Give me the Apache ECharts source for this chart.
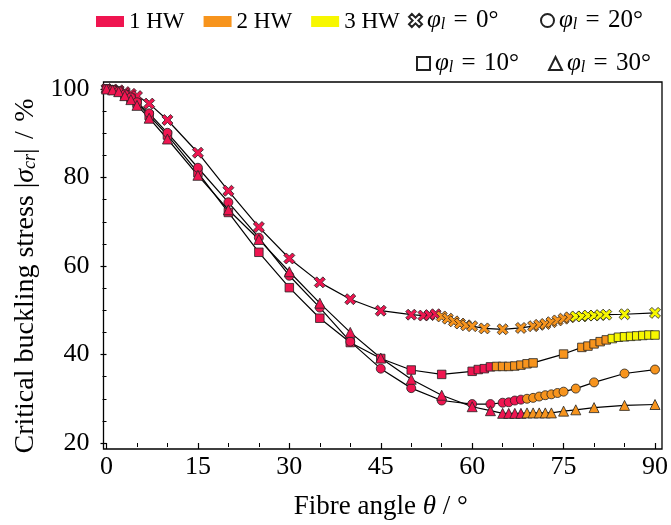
<!DOCTYPE html>
<html><head><meta charset="utf-8">
<script src="https://cdn.jsdelivr.net/npm/echarts@6/dist/echarts.min.js"></script>
<style>html,body{margin:0;padding:0;background:#fff}#c{width:671px;height:525px}</style>
</head><body><div id="c"></div>
<script>
// ---- data ----
const modeNames = ['1 HW', '2 HW', '3 HW'];
const modeColors = ['#ef1550', '#f7941d', '#f7f700'];
const xTicks = [0, 15, 30, 45, 60, 75, 90];
const yTicks = [20, 40, 60, 80, 100];

// phi_l = 0 deg (cross)
const x0 = [0,1,2,3,4,5,7,10,15,20,25,30,35,40,45,50,52,53,54,55,56,57,58,59,60,62,65,68,70,71,72,73,74,75,76,77,78,79,80,81,82,85,90];
const y0 = [100,99.9,99.7,99.3,98.9,98.4,96.7,93.0,85.6,77.0,68.8,61.7,56.3,52.5,49.9,49.0,48.8,48.9,49.1,48.6,48.1,47.5,47.0,46.6,46.4,45.9,45.7,46.0,46.4,46.7,46.9,47.3,47.7,48.1,48.4,48.6,48.6,48.8,48.8,48.9,49.0,49.1,49.4];
const m0 = [1,1,1,1,1,1,1,1,1,1,1,1,1,1,1,1,1,1,1,2,2,2,2,2,2,2,2,2,2,2,2,2,2,2,2,3,3,3,3,3,3,3,3];

// phi_l = 10 deg (square)
const x1 = [0,1,2,3,4,5,7,10,15,20,25,30,35,40,45,50,55,60,61,62,63,64,65,66,67,68,69,70,75,78,79,80,81,82,83,84,85,86,87,88,89,90];
const y1 = [100,99.8,99.5,98.7,97.9,96.8,94.0,89.6,81.1,72.1,63.1,55.1,48.2,42.7,39.1,36.5,35.5,36.2,36.6,36.8,37.2,37.3,37.3,37.3,37.4,37.6,37.9,38.1,40.1,41.6,41.9,42.4,42.9,43.3,43.6,43.9,44.0,44.1,44.2,44.3,44.4,44.4];
const m1 = [1,1,1,1,1,1,1,1,1,1,1,1,1,1,1,1,1,1,1,1,1,2,2,2,2,2,2,2,2,2,2,2,2,2,3,3,3,3,3,3,3,3];

// phi_l = 20 deg (circle)
const x2 = [0,1,2,3,4,5,7,10,15,20,25,30,35,40,45,50,55,60,63,65,66,67,68,69,70,71,72,73,74,75,77,80,85,90];
const y2 = [100,99.8,99.5,98.8,98.1,97.0,94.5,90.1,82.2,74.4,66.4,57.8,50.6,42.9,36.8,32.4,29.6,28.8,28.8,29.1,29.2,29.6,29.8,30.0,30.2,30.5,30.8,31.0,31.3,31.6,32.3,33.7,35.7,36.6];
const m2 = [1,1,1,1,1,1,1,1,1,1,1,1,1,1,1,1,1,1,1,1,1,1,1,2,2,2,2,2,2,2,2,2,2,2];

// phi_l = 30 deg (triangle)
const x3 = [0,1,2,3,4,5,7,10,15,20,25,30,35,40,45,50,55,60,63,65,66,67,68,69,70,71,72,73,75,77,80,85,90];
const y3 = [100,99.8,99.4,98.5,97.6,96.3,93.4,88.7,80.5,72.7,66.0,58.7,51.6,45.0,39.2,34.4,30.8,28.2,27.3,26.7,26.7,26.7,26.7,26.8,26.8,26.8,26.8,26.8,27.2,27.5,28.0,28.5,28.7];
const m3 = [1,1,1,1,1,1,1,1,1,1,1,1,1,1,1,1,1,1,1,1,1,1,1,2,2,2,2,2,2,2,2,2,2];

const seriesNames = ['phi0', 'phi10', 'phi20', 'phi30'];
const seriesLabels = {
  phi0: '{i|φ}{s|l}{n|\u2004=\u20040°}',
  phi10: '{i|φ}{s|l}{n|\u2004=\u200410°}',
  phi20: '{i|φ}{s|l}{n|\u2004=\u200420°}',
  phi30: '{i|φ}{s|l}{n|\u2004=\u200430°}'
};

// ---- styling ----
const FONT = 'Liberation Serif';
const crossPath = 'path://M0,2.2L2.2,0L5,2.8L7.8,0L10,2.2L7.2,5L10,7.8L7.8,10L5,7.2L2.2,10L0,7.8L2.8,5Z';
const symbols = [crossPath, 'rect', 'circle', 'triangle'];
const symbolSizes = [11, 8.5, 9, 10];

function build(xs, ys, ms) {
  return xs.map((x, i) => ({ value: [x, ys[i]], itemStyle: { color: modeColors[ms[i] - 1] } }));
}
const sets = [[x0, y0, m0], [x1, y1, m1], [x2, y2, m2], [x3, y3, m3]];

const richDef = {
  i: { fontFamily: FONT, fontStyle: 'italic', fontSize: 25, color: '#000' },
  s: { fontFamily: FONT, fontStyle: 'italic', fontSize: 16, color: '#000', verticalAlign: 'bottom' },
  n: { fontFamily: FONT, fontSize: 25, color: '#000' }
};
function axisRich(fs) {
  return {
    i: { fontFamily: FONT, fontStyle: 'italic', fontSize: fs, color: '#000' },
    s: { fontFamily: FONT, fontStyle: 'italic', fontSize: Math.round(fs * 0.66), color: '#000', verticalAlign: 'bottom' }
  };
}

const series = sets.map((s, k) => ({
  type: 'line',
  name: seriesNames[k],
  xAxisIndex: 1, yAxisIndex: 1,
  data: build(s[0], s[1], s[2]),
  symbol: symbols[k],
  symbolSize: symbolSizes[k],
  showSymbol: true, showAllSymbol: true,
  clip: false,
  lineStyle: { color: '#000', width: 1.2 },
  itemStyle: { color: '#ffffff', borderColor: '#222', borderWidth: 0.8 },
  emphasis: { disabled: true },
  animation: false
}));
modeNames.forEach((n, k) => series.push({
  type: 'line', name: n, xAxisIndex: 1, yAxisIndex: 1, data: [],
  itemStyle: { color: modeColors[k] }, lineStyle: { color: modeColors[k] }
}));

const legendText = { fontFamily: FONT, fontSize: 22, color: '#000', rich: richDef };
function markerLegend(name, icon, left, top) {
  return {
    data: [{ name: name, icon: icon }], left: left, top: top, padding: 0,
    itemWidth: 13, itemHeight: 13, selectedMode: false,
    formatter: n => seriesLabels[n], textStyle: legendText
  };
}

const chart = echarts.init(document.getElementById('c'), null, { renderer: 'canvas' });
chart.setOption({
  animation: false,
  backgroundColor: '#fff',
  legend: [
    { data: modeNames, left: 96, top: 10, padding: 0, icon: 'rect', itemWidth: 28, itemHeight: 11, itemGap: 19,
      selectedMode: false, textStyle: { fontFamily: FONT, fontSize: 23, color: '#000' } },
    markerLegend('phi0', crossPath, 408, 8),
    markerLegend('phi20', 'circle', 540, 8),
    markerLegend('phi10', 'rect', 416, 51),
    markerLegend('phi30', 'triangle', 548, 51)
  ],
  grid: [
    { left: 103.5, right: 9, top: 82, bottom: 76, show: true, borderColor: '#000', borderWidth: 1.3, backgroundColor: 'transparent' },
    { left: 106.5, right: 11.7, top: 89, bottom: 76 }
  ],
  xAxis: [
    { gridIndex: 0, type: 'value', show: false, min: 0, max: 1 },
    { gridIndex: 1, type: 'value', min: xTicks[0], max: xTicks[xTicks.length - 1], interval: xTicks[1] - xTicks[0],
      axisLine: { show: false },
      axisTick: { show: true, length: 6, lineStyle: { color: '#000', width: 1.2 } },
      minorTick: { show: true, splitNumber: 3, length: 4, lineStyle: { color: '#000', width: 1 } },
      splitLine: { show: false },
      axisLabel: { fontFamily: FONT, fontSize: 26, color: '#000', margin: 11 },
      name: 'Fibre angle {i|θ} / °', nameLocation: 'middle', nameGap: 50,
      nameTextStyle: { fontFamily: FONT, fontSize: 27, color: '#000', rich: axisRich(27) } }
  ],
  yAxis: [
    { gridIndex: 0, type: 'value', show: false, min: 0, max: 1 },
    { gridIndex: 1, type: 'value', min: yTicks[0], max: yTicks[yTicks.length - 1], interval: yTicks[1] - yTicks[0],
      offset: 3,
      axisLine: { show: false },
      axisTick: { show: true, length: 6, lineStyle: { color: '#000', width: 1.2 } },
      minorTick: { show: true, splitNumber: 4, length: 4, lineStyle: { color: '#000', width: 1 } },
      splitLine: { show: false },
      axisLabel: { fontFamily: FONT, fontSize: 26, color: '#000', margin: 14 },
      name: 'Critical buckling stress |{i|σ}{s|cr}|\u2004/\u2004%', nameLocation: 'middle', nameGap: 64,
      nameTextStyle: { fontFamily: FONT, fontSize: 28, color: '#000', rich: axisRich(28), padding: [0, 20, 0, 0] } }
  ],
  series: series
});
</script></body></html>
